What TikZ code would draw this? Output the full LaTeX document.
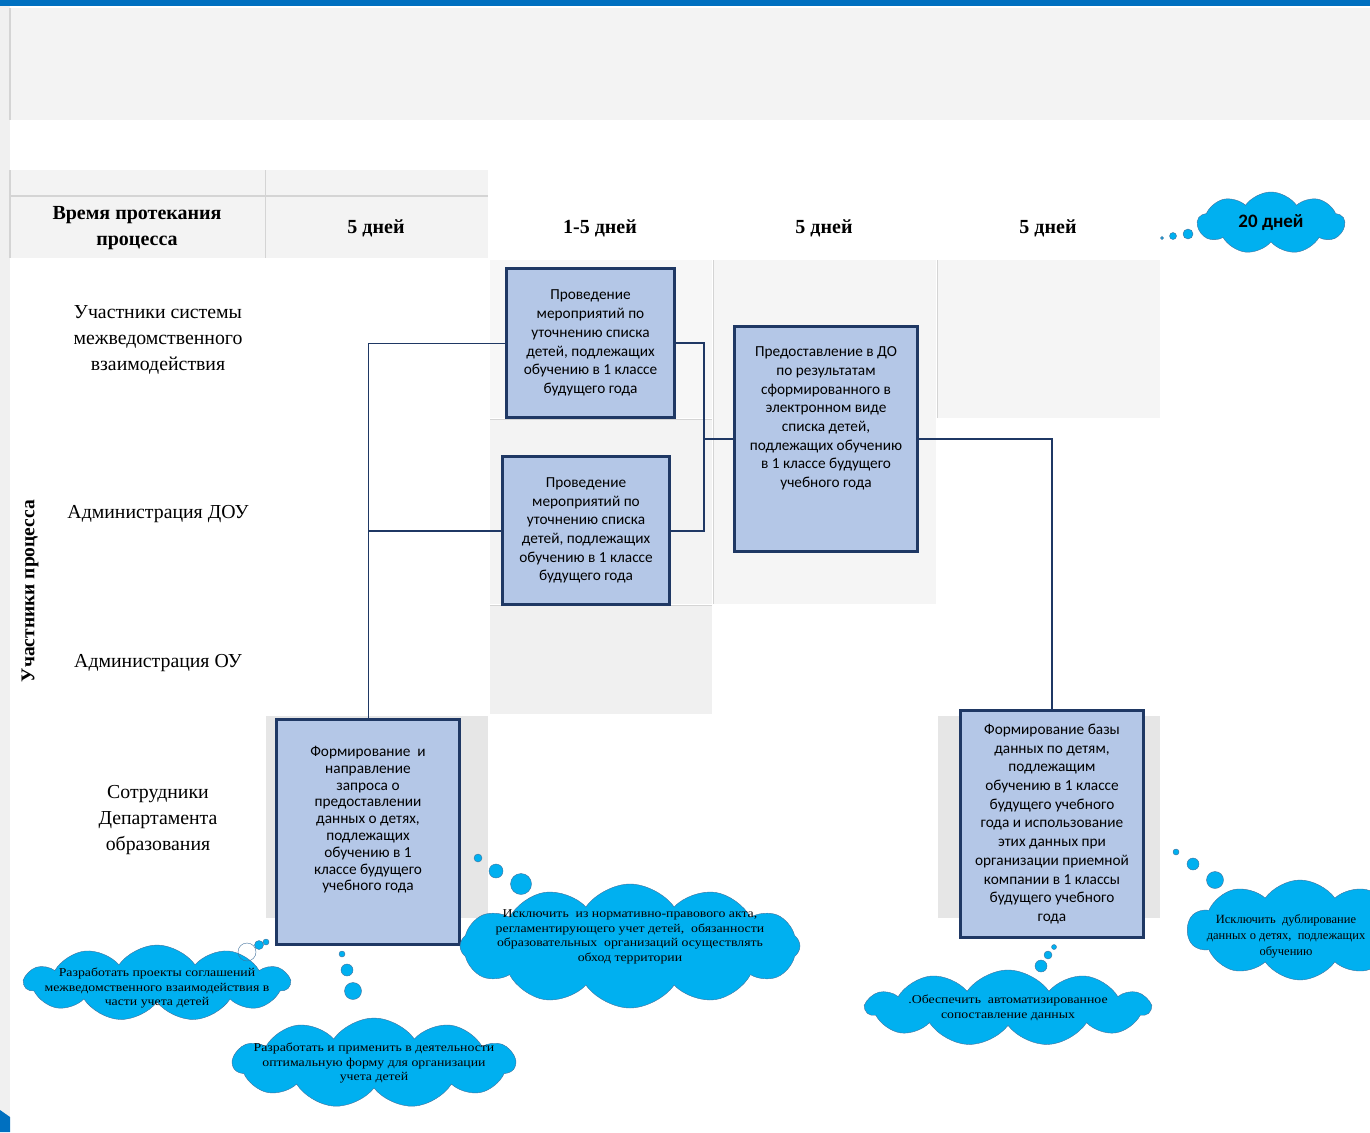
\documentclass[tikz,border=0pt]{standalone}
\usepackage{fontspec}
\setmainfont{Liberation Serif}
\newfontfamily\boxfont{Carlito}
\newfontfamily\cloudfont[FakeStretch=1.15]{Liberation Serif}
\usetikzlibrary{shapes.symbols}

\definecolor{boxfill}{HTML}{B4C7E7}
\definecolor{boxline}{HTML}{1F3864}
\definecolor{cloudfill}{HTML}{00B0F0}
\definecolor{cloudline}{HTML}{41719C}
\definecolor{topblue}{HTML}{0070C0}
\definecolor{celllight}{HTML}{F3F3F3}
\definecolor{celldark}{HTML}{E6E6E6}
\definecolor{cellrule}{HTML}{D4D4D4}

\begin{document}
\begin{tikzpicture}[x=1pt, y=-1pt]

  % Stili
  \tikzstyle{stage} = [rectangle, draw=boxline, line width=2.6pt, fill=boxfill, align=center, inner sep=2pt, font=\boxfont\fontsize{15.3}{18.7}\selectfont]
  \tikzstyle{idea} = [cloud, cloud puffs=11, cloud puff arc=110, cloud ignores aspect, draw=cloudline, fill=cloudfill, thin, inner sep=0pt]
  \tikzstyle{ideatext} = [align=center, inner sep=0pt, font=\cloudfont\fontsize{12}{14.5}\selectfont]
  \tikzstyle{bubble} = [circle, draw=cloudline, fill=cloudfill, thin, inner sep=0pt]
  \tikzstyle{rowlabel} = [align=center, font=\fontsize{19.8}{26}\selectfont]
  \tikzstyle{head} = [align=center, font=\bfseries\fontsize{20}{26}\selectfont]
  \tikzstyle{link} = [draw=boxline, line width=2pt]

  \useasboundingbox (0,0) rectangle (1370,1132);
  \clip (0,0) rectangle (1370,1132);

  % Fondo
  \fill[celldark!60] (0,0) rectangle (10,1132);
  \fill[topblue] (0,0) rectangle (1370,6);
  \fill[celllight] (10,8) rectangle (1370,120);
  \draw[cellrule, line width=1.5pt] (10,8) -- (10,120);
  \fill[topblue] (0,1110) -- (10,1117) -- (10,1132) -- (0,1132) -- cycle;

  % Tabella
  \fill[celllight] (10,170) rectangle (488,258);
  \draw[cellrule, line width=1.5pt] (10,196) -- (488,196);
  \draw[cellrule, line width=1pt] (265,170) -- (265,258);
  \draw[cellrule, line width=1.5pt] (10,170) -- (10,258);
  \fill[celllight!70] (490,260) rectangle (712,418);
  \fill[celllight] (490,420) rectangle (712,604);
  \fill[celllight!80!celldark] (490,606) rectangle (712,714);
  \draw[cellrule] (490,419) -- (712,419);
  \draw[cellrule] (490,605) -- (712,605);
  \fill[celllight!80] (714,260) rectangle (936,604);
  \draw[cellrule] (713,260) -- (713,604);
  \fill[celllight!80] (938,260) rectangle (1160,418);
  \draw[cellrule, line width=1pt] (937,260) -- (937,418);
  \fill[celldark] (266,716) rectangle (488,918);
  \fill[celldark] (938,716) rectangle (1160,918);

  % Intestazioni
  \node[head] (hTime) at (137,228) {Время протекания\\процесса};
  \node[head] (hA) at (376,228) {5 дней};
  \node[head] (hB) at (600,228) {1-5 дней};
  \node[head] (hC) at (824,228) {5 дней};
  \node[head] (hD) at (1048,228) {5 дней};
  \node[idea, cloud puffs=9, minimum width=147pt, minimum height=62pt,
        label={[ideatext, font=\boxfont\bfseries\fontsize{19}{22}\selectfont]center:20 дней}] (cTot) at (1271,223) {};
  \node[bubble, minimum size=3pt] (t1) at (1162,238) {};
  \node[bubble, minimum size=7pt] (t2) at (1173,236) {};
  \node[bubble, minimum size=10pt] (t3) at (1188,234) {};

  % Partecipanti
  \node[rotate=90, font=\bfseries\fontsize{19.5}{22}\selectfont] (pAll) at (30,591) {Участники процесса};
  \node[rowlabel] (rSys) at (158,340) {Участники системы\\межведомственного\\взаимодействия};
  \node[rowlabel] (rDou) at (158,514) {Администрация ДОУ};
  \node[rowlabel] (rOu) at (158,663) {Администрация ОУ};
  \node[rowlabel] (rDep) at (158,820) {Сотрудники\\Департамента\\образования};

  % Nodi
  \node[stage, minimum width=168pt, minimum height=149pt] (b1) at (590.5,343) {Проведение\\мероприятий по\\уточнению списка\\детей, подлежащих\\обучению в 1 классе\\будущего года};
  \node[stage, minimum width=167pt, minimum height=148pt] (b2) at (586,530.5) {Проведение\\мероприятий по\\уточнению списка\\детей, подлежащих\\обучению в 1 классе\\будущего года};
  \node[stage, minimum width=183pt, minimum height=225pt] (b3) at (826,439) {Предоставление в ДО\\по результатам\\сформированного в\\электронном виде\\списка детей,\\подлежащих обучению\\в 1 классе будущего\\учебного года\\[25pt]\mbox{}};
  \node[stage, minimum width=183pt, minimum height=225pt, font=\boxfont\fontsize{15.3}{16.8}\selectfont] (b4) at (368,832) {Формирование~ и\\направление\\запроса о\\предоставлении\\данных о детях,\\подлежащих\\обучению в 1\\классе будущего\\учебного года\\[10pt]\mbox{}};
  \node[stage, minimum width=183pt, minimum height=227pt] (b5) at (1052,824) {Формирование базы\\данных по детям,\\подлежащим\\обучению в 1 классе\\будущего учебного\\года и использование\\этих данных при\\организации приемной\\компании в 1 классы\\будущего учебного\\года};
  \coordinate (j) at (704,439);

  % Frecce
  \draw[link, line width=1pt] (b1.west) -| (b4.north);
  \draw[link] (b2.west) -- (b4.north |- b2.west);
  \draw[link] (b1.east) -| (j) -- (b3.west);
  \draw[link] (b2.east) -| (j);
  \draw[link] (b3.east) -| (b5.north);

  % Nuvole
  \node[idea, minimum width=265pt, minimum height=76pt,
        label={[ideatext, yshift=-5pt]center:{Разработать проекты соглашений\\межведомственного взаимодействия в\\части учета детей}}] (c1) at (157,983) {};
  \node[bubble, fill=none, minimum size=18pt] (d1a) at (247,952) {};
  \node[bubble, minimum size=9pt] (d1b) at (259,945) {};
  \node[bubble, minimum size=6pt] (d1c) at (266,942) {};

  \node[idea, minimum width=282pt, minimum height=90pt,
        label={[ideatext]center:{Разработать и применить в деятельности\\оптимальную форму для организации\\учета детей}}] (c2) at (374,1063) {};
  \node[bubble, minimum size=6pt] (d2a) at (342,954) {};
  \node[bubble, minimum size=12pt] (d2b) at (347,970) {};
  \node[bubble, minimum size=17pt] (d2c) at (353,991) {};

  \node[idea, cloud puffs=12, minimum width=340pt, minimum height=124pt,
        label={[ideatext, yshift=9pt]center:{Исключить~ из нормативно-правового акта,\\регламентирующего учет детей,~ обязанности\\образовательных~ организаций осуществлять\\обход территории}}] (c3) at (630,946) {};
  \node[bubble, minimum size=8pt] (d3a) at (478,858) {};
  \node[bubble, minimum size=14pt] (d3b) at (496,871) {};
  \node[bubble, minimum size=21pt] (d3c) at (521,884) {};

  \node[idea, minimum width=284pt, minimum height=76pt,
        label={[ideatext]center:{.Обеспечить~ автоматизированное\\сопоставление данных}}] (c4) at (1008,1008) {};
  \node[bubble, minimum size=5pt] (d4a) at (1054,947) {};
  \node[bubble, minimum size=8pt] (d4b) at (1048,955) {};
  \node[bubble, minimum size=12pt] (d4c) at (1041,966) {};

  \node[idea, cloud puffs=10, minimum width=225pt, minimum height=100pt,
        label={[ideatext, xshift=-14pt, yshift=-6pt, font=\fontsize{12.5}{16}\selectfont]center:{Исключить~ дублирование\\данных о детях,~ подлежащих\\обучению}}] (c5) at (1300,930) {};
  \node[bubble, minimum size=6pt] (d5a) at (1176,852) {};
  \node[bubble, minimum size=12pt] (d5b) at (1193,864) {};
  \node[bubble, minimum size=17pt] (d5c) at (1215,880) {};

\end{tikzpicture}
\end{document}
